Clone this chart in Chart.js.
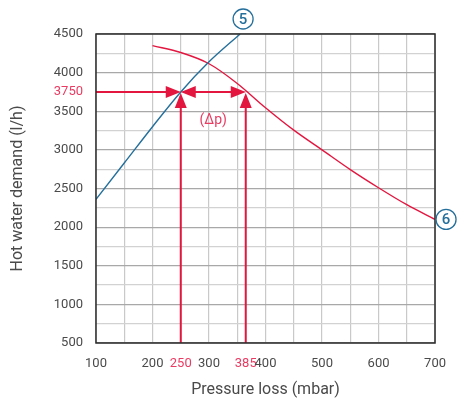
<!DOCTYPE html>
<html>
<head>
<meta charset="utf-8">
<script src="https://cdn.jsdelivr.net/npm/chart.js@4.4.1/dist/chart.umd.min.js"></script>
<style>
  html, body { margin: 0; padding: 0; background: #fff; }
  #wrap { width: 459px; height: 401px; }
</style>
</head>
<body>
<div id="wrap"><canvas id="chart" width="459" height="401"></canvas></div>
<script>
// curve 5 (blue) and curve 6 (red)
const curve5X = [100, 150, 200, 250, 300, 355];
const curve5Y = [2360, 2830, 3300, 3750, 4140, 4500];
const curve6X = [200, 250, 300, 350, 400, 450, 500, 550, 600, 650, 700];
const curve6Y = [4350, 4260, 4115, 3860, 3545, 3255, 3000, 2745, 2510, 2290, 2100];

// operating point markers
const markerX = [250, 365];
const markerY = 3750;

const xLabelValues = [100, 200, 250, 300, 365, 400, 500, 600, 700];
const xLabelTexts = ['100', '200', '250', '300', '385', '400', '500', '600', '700'];
const xRedValues = [250, 365];
const yLabelValues = [500, 1000, 1500, 2000, 2500, 3000, 3500, 3750, 4000, 4500];
const yRedValues = [3750];

const BLUE = '#246f9b';
const RED = '#e3163f';
const RED_TXT = '#ea3b62';
const TXT = '#4a4a4a';

const toPoints = (xs, ys) => xs.map((x, i) => ({ x, y: ys[i] }));

function arrowHead(ctx, x, y, dir) {
  // dir: 'r', 'l', 'u'
  const len = 15, half = 6;
  ctx.beginPath();
  if (dir === 'r') { ctx.moveTo(x, y); ctx.lineTo(x - len, y - half); ctx.lineTo(x - len, y + half); }
  if (dir === 'l') { ctx.moveTo(x, y); ctx.lineTo(x + len, y - half); ctx.lineTo(x + len, y + half); }
  if (dir === 'u') { ctx.moveTo(x, y); ctx.lineTo(x - half, y + len); ctx.lineTo(x + half, y + len); }
  ctx.closePath();
  ctx.fill();
}

function circledLabel(ctx, cx, cy, txt) {
  ctx.save();
  ctx.strokeStyle = BLUE;
  ctx.lineWidth = 1.3;
  ctx.beginPath();
  ctx.arc(cx, cy, 10, 0, Math.PI * 2);
  ctx.stroke();
  ctx.fillStyle = BLUE;
  ctx.font = '500 15px Roboto';
  ctx.textAlign = 'center';
  ctx.textBaseline = 'middle';
  ctx.fillText(txt, cx, cy + 1);
  ctx.restore();
}

const overlay = {
  id: 'overlay',
  afterDatasetsDraw(chart) {
    const { ctx, chartArea: a, scales: { x, y } } = chart;
    const py = y.getPixelForValue(markerY);
    const px0 = x.getPixelForValue(markerX[0]);
    const px1 = x.getPixelForValue(markerX[1]);
    ctx.save();
    ctx.strokeStyle = RED;
    ctx.fillStyle = RED;
    ctx.lineWidth = 2;
    ctx.beginPath();
    ctx.moveTo(a.left, py); ctx.lineTo(px0 - 4, py);
    ctx.moveTo(px0 + 4, py); ctx.lineTo(px1 - 4, py);
    markerX.forEach(v => {
      const px = x.getPixelForValue(v);
      ctx.moveTo(px, a.bottom); ctx.lineTo(px, py + 4);
    });
    ctx.stroke();
    arrowHead(ctx, px0, py, 'r');
    arrowHead(ctx, px0, py, 'l');
    arrowHead(ctx, px1, py, 'r');
    arrowHead(ctx, px0, py + 1, 'u');
    arrowHead(ctx, px1, py + 1, 'u');
    ctx.fillStyle = RED_TXT;
    ctx.font = '14px Roboto';
    ctx.textAlign = 'center';
    ctx.textBaseline = 'middle';
    ctx.fillText('(Δp)', (px0 + px1) / 2, py + 29);
    ctx.restore();

    // frame
    ctx.save();
    ctx.strokeStyle = '#2b2b2b';
    ctx.lineWidth = 1.5;
    ctx.strokeRect(a.left, a.top, a.right - a.left, a.bottom - a.top);
    ctx.restore();

    const e5x = x.getPixelForValue(curve5X[curve5X.length - 1]);
    circledLabel(ctx, e5x + 3, a.top - 15, '5');
    const e6y = y.getPixelForValue(curve6Y[curve6Y.length - 1]);
    circledLabel(ctx, a.right + 11, e6y, '6');
  }
};

new Chart(document.getElementById('chart').getContext('2d'), {
  type: 'line',
  data: {
    datasets: [
      { data: toPoints(curve5X, curve5Y), borderColor: BLUE, borderWidth: 1.4, pointRadius: 0, cubicInterpolationMode: 'monotone', fill: false },
      { data: toPoints(curve6X, curve6Y), borderColor: RED, borderWidth: 1.4, pointRadius: 0, cubicInterpolationMode: 'monotone', fill: false }
    ]
  },
  options: {
    responsive: false,
    animation: false,
    events: [],
    layout: { padding: { top: 34, right: 20, left: 0, bottom: 0 } },
    plugins: { legend: { display: false }, tooltip: { enabled: false } },
    scales: {
      x: {
        type: 'linear', min: 100, max: 700,
        afterBuildTicks: s => {
          const t = [];
          for (let v = 100; v <= 700; v += 50) t.push(v);
          xRedValues.forEach(v => { if (!t.includes(v)) t.push(v); });
          s.ticks = t.sort((a, b) => a - b).map(v => ({ value: v }));
        },
        afterFit: s => { s.height = 58; },
        border: { display: false },
        grid: {
          drawTicks: false,
          color: c => (c.tick && xRedValues.includes(c.tick.value) && c.tick.value !== 250) ? 'rgba(0,0,0,0)' : '#c9c9c9',
          lineWidth: 1.2
        },
        ticks: {
          autoSkip: false, maxRotation: 0, padding: 13,
          font: { family: 'Roboto', size: 13 },
          color: c => xRedValues.includes(c.tick.value) ? RED_TXT : TXT,
          callback: v => { const i = xLabelValues.indexOf(v); return i >= 0 ? xLabelTexts[i] : ''; }
        },
        title: { display: true, text: 'Pressure loss (mbar)', color: TXT, font: { family: 'Roboto', size: 16 }, padding: { top: 0, bottom: 1 } }
      },
      y: {
        min: 500, max: 4500,
        afterFit: s => { s.width = 96; },
        border: { display: false },
        grid: {
          drawTicks: false,
          color: c => (c.tick && c.tick.value % 500 === 0) ? '#a8a8a8' : '#d2d2d2',
          lineWidth: 1.2
        },
        ticks: {
          stepSize: 250, autoSkip: false, padding: 13,
          font: { family: 'Roboto', size: 13 },
          color: c => yRedValues.includes(c.tick.value) ? RED_TXT : TXT,
          callback: v => yLabelValues.includes(v) ? String(v) : ''
        },
        title: { display: true, text: 'Hot water demand (l/h)', color: TXT, font: { family: 'Roboto', size: 16 }, padding: { top: 8, bottom: 0 } }
      }
    }
  },
  plugins: [overlay]
});
</script>
</body>
</html>
